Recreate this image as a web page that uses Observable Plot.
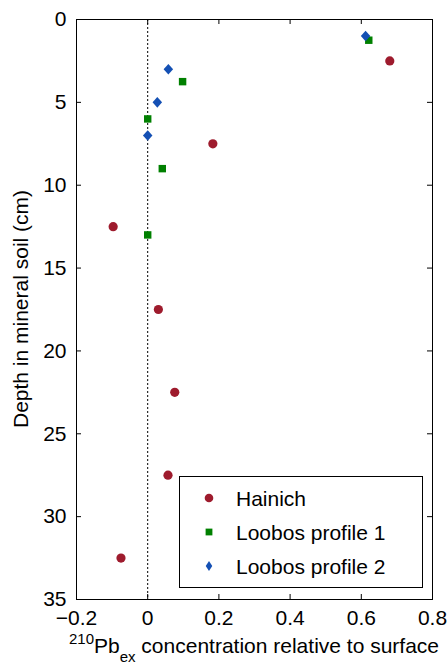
<!DOCTYPE html>
<html>
<head>
<meta charset="utf-8">
<script src="https://cdn.jsdelivr.net/npm/d3@7"></script>
<script src="https://cdn.jsdelivr.net/npm/@observablehq/plot@0.6"></script>
<style>
  html, body { margin: 0; padding: 0; background: #fff; }
</style>
</head>
<body>
<div id="chart"></div>
<script>
// Series names and colours
const seriesNames = ["Hainich", "Loobos profile 1", "Loobos profile 2"];
const seriesColors = ["#9e1b2d", "#008000", "#1450b4"];

// Excess 210Pb relative to the surface layer, by depth (cm)
const hainichDepth = [2.5, 7.5, 12.5, 17.5, 22.5, 27.5, 32.5];
const hainichValue = [0.68, 0.183, -0.097, 0.03, 0.076, 0.057, -0.075];

const loobos1Depth = [1.25, 3.75, 6, 9, 13];
const loobos1Value = [0.621, 0.098, 0, 0.041, 0];

const loobos2Depth = [1, 3, 5, 7];
const loobos2Value = [0.612, 0.058, 0.027, 0];

// Axis ticks
const xTicks = [-0.2, 0, 0.2, 0.4, 0.6, 0.8];
const xTickLabels = ["\u22120.2", "0", "0.2", "0.4", "0.6", "0.8"];
const yTicks = [0, 5, 10, 15, 20, 25, 30, 35];
const yTickLabels = ["0", "5", "10", "15", "20", "25", "30", "35"];

const xLabelSup = "210";
const xLabelMain = "Pb";
const xLabelSub = "ex";
const xLabelRest = " concentration relative to surface";
const yLabel = "Depth in mineral soil (cm)";

// Layout
const W = 447, H = 670;
const M = {top: 19, right: 15, bottom: 71, left: 76};
const plotW = W - M.left - M.right;
const plotH = H - M.top - M.bottom;
const TICK = 5;
const FONT = "'Liberation Sans', Arial, Helvetica, sans-serif";

const toRows = (depths, values) => depths.map((d, i) => ({depth: d, value: values[i]}));
const hainich = toRows(hainichDepth, hainichValue);
const loobos1 = toRows(loobos1Depth, loobos1Value);
const loobos2 = toRows(loobos2Depth, loobos2Value);

// Diamond markers: a squat one for the data, a narrower one for the legend
const makeDiamond = (ratio) => ({
  draw(context, size) {
    const h = Math.sqrt(size) * 0.608;
    const w = h * ratio;
    context.moveTo(0, -h);
    context.lineTo(w, 0);
    context.lineTo(0, h);
    context.lineTo(-w, 0);
    context.closePath();
  }
});
const diamondWide = makeDiamond(0.9);
const diamondNarrow = makeDiamond(0.66);

// x-axis title with superscript and subscript
function xTitle(index, scales, values, dims) {
  const g = d3.create("svg:g");
  const t = g.append("text")
    .attr("x", (dims.marginLeft + dims.width - dims.marginRight) / 2)
    .attr("y", dims.height - 17)
    .attr("text-anchor", "middle")
    .attr("fill", "black");
  t.append("tspan").attr("font-size", 15).attr("dy", -9).text(xLabelSup);
  t.append("tspan").attr("dy", 9).text(xLabelMain);
  t.append("tspan").attr("font-size", 15).attr("dy", 9).text(xLabelSub);
  t.append("tspan").attr("dy", -9).text(xLabelRest);
  return g.node();
}

// y-axis title, rotated
function yTitle(index, scales, values, dims) {
  const g = d3.create("svg:g");
  const cy = (dims.marginTop + dims.height - dims.marginBottom) / 2;
  g.append("text")
    .attr("transform", `translate(27.5,${cy}) rotate(-90)`)
    .attr("text-anchor", "middle")
    .attr("fill", "black")
    .text(yLabel);
  return g.node();
}

// Boxed legend in the lower right of the frame
function legend(index, scales, values, dims) {
  const g = d3.create("svg:g");
  const right = dims.width - dims.marginRight - 10;
  const bottom = dims.height - dims.marginBottom - 12;
  const bw = 243, bh = 111;
  const left = right - bw, top = bottom - bh;
  g.append("rect")
    .attr("x", left + 0.5).attr("y", top + 0.5)
    .attr("width", bw).attr("height", bh)
    .attr("fill", "white").attr("stroke", "black").attr("stroke-width", 1);
  const symbols = [
    d3.symbol(d3.symbolCircle, Math.PI * 4.3 * 4.3),
    d3.symbol(d3.symbolSquare, 6.8 * 6.8),
    d3.symbol(diamondNarrow, Math.PI * 4.6 * 4.6)
  ];
  seriesNames.forEach((name, i) => {
    const cy = top + 22 + i * 34;
    g.append("path")
      .attr("transform", `translate(${left + 30},${cy})`)
      .attr("d", symbols[i]())
      .attr("fill", seriesColors[i]);
    g.append("text")
      .attr("x", left + 57).attr("y", cy + 7.5)
      .attr("text-anchor", "start")
      .attr("fill", "black")
      .text(name);
  });
  return g.node();
}

const chart = Plot.plot({
  width: W,
  height: H,
  marginTop: M.top,
  marginRight: M.right,
  marginBottom: M.bottom,
  marginLeft: M.left,
  style: {fontFamily: FONT, fontSize: "21px", color: "black", background: "white"},
  x: {domain: [-0.2, 0.8]},
  y: {domain: [0, 35], reverse: true},
  marks: [
    Plot.ruleX([0], {stroke: "black", strokeWidth: 1, strokeDasharray: "2,2"}),
    Plot.dot(hainich, {x: "value", y: "depth", symbol: "circle", r: 4.6, fill: seriesColors[0], stroke: "none"}),
    Plot.dot(loobos1, {x: "value", y: "depth", symbol: "square", r: 4.2, fill: seriesColors[1], stroke: "none"}),
    Plot.dot(loobos2, {x: "value", y: "depth", symbol: diamondWide, r: 4.9, fill: seriesColors[2], stroke: "none"}),
    legend,
    // inward tick marks on all four sides
    Plot.tickX(xTicks, {x: d => d, stroke: "black", insetTop: plotH - TICK}),
    Plot.tickX(xTicks, {x: d => d, stroke: "black", insetBottom: plotH - TICK}),
    Plot.tickY(yTicks, {y: d => d, stroke: "black", insetRight: plotW - TICK}),
    Plot.tickY(yTicks, {y: d => d, stroke: "black", insetLeft: plotW - TICK}),
    Plot.frame({stroke: "black", strokeWidth: 1}),
    Plot.axisX({ticks: xTicks, tickSize: 0, tickPadding: 11, label: null,
      tickFormat: d => xTickLabels[xTicks.indexOf(d)]}),
    Plot.axisY({ticks: yTicks, tickSize: 0, tickPadding: 10, label: null,
      tickFormat: d => yTickLabels[yTicks.indexOf(d)]}),
    xTitle,
    yTitle
  ]
});

document.getElementById("chart").appendChild(chart);
</script>
</body>
</html>
